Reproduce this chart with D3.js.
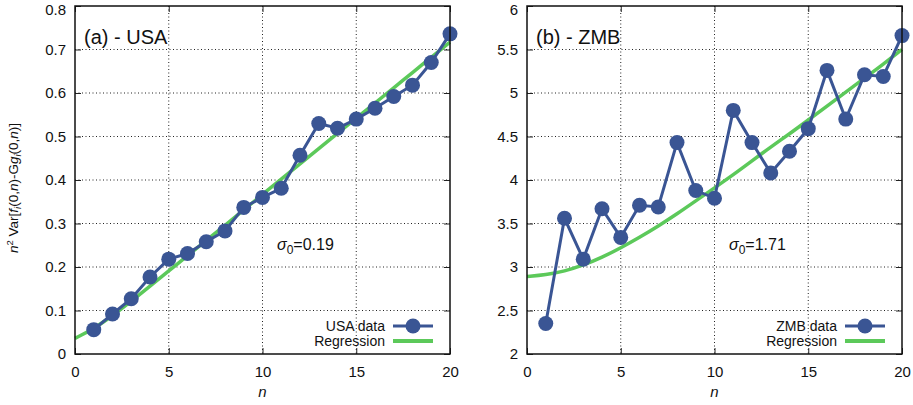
<!DOCTYPE html>
<html>
<head>
<meta charset="utf-8">
<script src="https://cdn.jsdelivr.net/npm/d3@7"></script>
<style>
  body { margin: 0; background: #fff; }
  svg { font-family: "Liberation Sans", Arial, sans-serif; }
  .tick-label { fill: #111; }
</style>
</head>
<body>
<div id="chart"></div>
<script>
// n values shared by both panels
const nValues = d3.range(1, 21);
const nFit = d3.range(0, 21);

// USA panel
const usaData = [0.056, 0.092, 0.127, 0.177, 0.218, 0.231, 0.258, 0.283, 0.337, 0.360,
                 0.381, 0.457, 0.530, 0.519, 0.540, 0.565, 0.592, 0.618, 0.670, 0.736];
const usaFit = [0.036, 0.058, 0.088, 0.121, 0.156, 0.191, 0.226, 0.261, 0.296, 0.331, 0.367,
                0.402, 0.437, 0.472, 0.507, 0.542, 0.577, 0.612, 0.647, 0.682, 0.717];
const usaTicksY = [0, 0.1, 0.2, 0.3, 0.4, 0.5, 0.6, 0.7, 0.8];

// ZMB panel
const zmbData = [2.35, 3.56, 3.09, 3.67, 3.34, 3.71, 3.69, 4.43, 3.88, 3.79,
                 4.80, 4.43, 4.08, 4.33, 4.59, 5.26, 4.70, 5.21, 5.19, 5.66];
const zmbFit = [2.89, 2.91, 2.95, 3.02, 3.11, 3.22, 3.34, 3.47, 3.61, 3.76, 3.91,
                4.06, 4.22, 4.38, 4.53, 4.69, 4.85, 5.01, 5.17, 5.33, 5.50];
const zmbTicksY = [2, 2.5, 3, 3.5, 4, 4.5, 5, 5.5, 6];

const xTicks = [0, 5, 10, 15, 20];

const blue = "#3a5594";
const green = "#5cc95a";

const svg = d3.select("#chart").append("svg")
    .attr("width", 913)
    .attr("height", 405);

const panels = [
    { left: 75, right: 450, title: "(a) - USA", data: usaData, fit: usaFit,
      yDomain: [0, 0.8], yTicks: usaTicksY, fmt: d => d === 0 ? "0" : d3.format(".1f")(d),
      sigma: "0.19", sigmaX: 277, legend: "USA data" },
    { left: 527, right: 902, title: "(b) - ZMB", data: zmbData, fit: zmbFit,
      yDomain: [2, 6], yTicks: zmbTicksY, fmt: d => d3.format("~g")(d),
      sigma: "1.71", sigmaX: 729, legend: "ZMB data" }
];

const plotTop = 6, plotBottom = 354;

panels.forEach(p => {
    const x = d3.scaleLinear().domain([0, 20]).range([p.left, p.right]);
    const y = d3.scaleLinear().domain(p.yDomain).range([plotBottom, plotTop]);
    const g = svg.append("g");

    // dotted grid
    g.selectAll(".gx").data(xTicks.slice(1, -1)).join("line")
        .attr("x1", d => x(d)).attr("x2", d => x(d))
        .attr("y1", plotTop).attr("y2", plotBottom)
        .attr("stroke", "#222").attr("stroke-width", 1)
        .attr("stroke-dasharray", "1,2.5");
    g.selectAll(".gy").data(p.yTicks.slice(1, -1)).join("line")
        .attr("x1", p.left).attr("x2", p.right)
        .attr("y1", d => y(d)).attr("y2", d => y(d))
        .attr("stroke", "#222").attr("stroke-width", 1)
        .attr("stroke-dasharray", "1,2.5");

    // axes (ticks pointing inward, mirrored)
    g.append("g").attr("transform", `translate(0,${plotBottom})`)
        .call(d3.axisBottom(x).tickValues(xTicks).tickSizeInner(-6).tickSizeOuter(0).tickPadding(12));
    const axL = g.append("g").attr("transform", `translate(${p.left},0)`)
        .call(d3.axisLeft(y).tickValues(p.yTicks).tickFormat(p.fmt).tickSizeInner(-6).tickSizeOuter(0).tickPadding(9));
    g.append("g").attr("transform", `translate(0,${plotTop})`)
        .call(d3.axisTop(x).tickValues(xTicks).tickSizeInner(-6).tickSizeOuter(0).tickFormat(""));
    g.append("g").attr("transform", `translate(${p.right},0)`)
        .call(d3.axisRight(y).tickValues(p.yTicks).tickSizeInner(-6).tickSizeOuter(0).tickFormat(""));
    g.selectAll(".domain").remove();
    g.selectAll(".tick line").attr("stroke", "#222");
    g.selectAll(".tick text").attr("class", "tick-label")
        .style("font-family", "Liberation Sans, Arial, sans-serif").style("font-size", "15px");
    // top label sits a little lower so it stays on the page
    axL.selectAll(".tick text").filter(d => d === p.yDomain[1]).attr("dy", "0.55em");

    // regression curve
    g.append("path")
        .datum(nFit.map((n, i) => [n, p.fit[i]]))
        .attr("fill", "none").attr("stroke", green).attr("stroke-width", 3.5)
        .attr("d", d3.line().x(d => x(d[0])).y(d => y(d[1])).curve(d3.curveBasis));

    // data line + markers
    const pts = nValues.map((n, i) => [n, p.data[i]]);
    g.append("path").datum(pts)
        .attr("fill", "none").attr("stroke", blue).attr("stroke-width", 3)
        .attr("d", d3.line().x(d => x(d[0])).y(d => y(d[1])));
    g.selectAll(".pt").data(pts).join("circle")
        .attr("cx", d => x(d[0])).attr("cy", d => y(d[1])).attr("r", 7.5)
        .attr("fill", blue);

    // frame
    g.append("rect")
        .attr("x", p.left).attr("y", plotTop)
        .attr("width", p.right - p.left).attr("height", plotBottom - plotTop)
        .attr("fill", "none").attr("stroke", "#111").attr("stroke-width", 1.5);

    // title
    g.append("text").attr("x", p.left + 9).attr("y", 44)
        .attr("font-size", 20).attr("fill", "#111").text(p.title);

    // sigma label
    const s = g.append("text").attr("x", p.sigmaX).attr("y", 250)
        .attr("font-size", 16).attr("fill", "#111");
    s.append("tspan").attr("font-style", "italic").text("σ");
    s.append("tspan").attr("font-size", 12).attr("dy", 4).text("0");
    s.append("tspan").attr("dy", -4).text("=" + p.sigma);

    // legend
    const lx = p.right - 65;
    g.append("text").attr("x", lx).attr("y", 331).attr("text-anchor", "end")
        .attr("font-size", 14).attr("fill", "#111").text(p.legend);
    g.append("text").attr("x", lx).attr("y", 346).attr("text-anchor", "end")
        .attr("font-size", 14).attr("fill", "#111").text("Regression");
    g.append("line").attr("x1", lx + 8).attr("x2", lx + 48).attr("y1", 326).attr("y2", 326)
        .attr("stroke", blue).attr("stroke-width", 3);
    g.append("circle").attr("cx", lx + 28).attr("cy", 326).attr("r", 7.5).attr("fill", blue);
    g.append("line").attr("x1", lx + 8).attr("x2", lx + 48).attr("y1", 341).attr("y2", 341)
        .attr("stroke", green).attr("stroke-width", 4);

    // x label
    g.append("text").attr("x", (p.left + p.right) / 2).attr("y", 397)
        .attr("text-anchor", "middle").attr("font-size", 15).attr("font-style", "italic")
        .attr("fill", "#111").text("n");
});

// y axis label on the left panel
const yl = svg.append("text")
    .attr("transform", "translate(18,188) rotate(-90)")
    .attr("text-anchor", "middle").attr("font-size", 13.5).attr("fill", "#111");
const parts = [
    ["n", "italic"], ["2", "sup"], [" Var[", ""], ["f", "italic"], ["i", "sub"],
    ["(0,", ""], ["n", "italic"], [")-G", ""], ["g", "italic"], ["i", "sub"],
    ["(0,", ""], ["n", "italic"], [")]", ""]
];
let shift = 0;
parts.forEach(([t, kind]) => {
    const ts = yl.append("tspan").text(t);
    let target = 0;
    if (kind === "italic") ts.attr("font-style", "italic");
    if (kind === "sup") { ts.attr("font-size", 9.5); target = -5; }
    if (kind === "sub") { ts.attr("font-size", 9.5).attr("font-style", "italic"); target = 3; }
    ts.attr("dy", target - shift);
    shift = target;
});
</script>
</body>
</html>
